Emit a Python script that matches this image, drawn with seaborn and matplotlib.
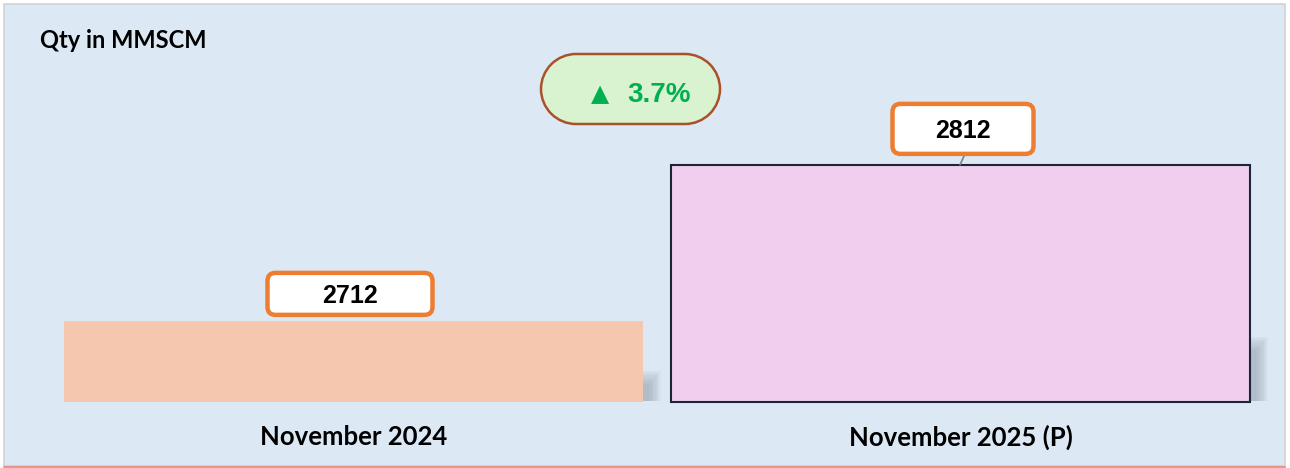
import matplotlib
matplotlib.use("Agg")
import matplotlib.pyplot as plt
from matplotlib.patches import Rectangle, FancyBboxPatch, PathPatch
from matplotlib.path import Path
from matplotlib.transforms import IdentityTransform, blended_transform_factory
from matplotlib.lines import Line2D
import seaborn as sns
import pandas as pd
import numpy as np

# ---- data ----
categories = ["November 2024", "November 2025 (P)"]
values = [2712, 2812]
change_label = "3.7%"
unit_label = "Qty in MMSCM"
bar_colors = ["#f5c7ae", "#f1cdee"]

W, H = 1290, 468
sns.set_theme(style="white")
plt.rcParams['font.family'] = ['Liberation Sans', 'DejaVu Sans']

fig = plt.figure(figsize=(W / 100, H / 100), dpi=100)
fig.patch.set_facecolor("white")
ID = IdentityTransform()

def P(x, y):
    return (x, H - y)

def stadium(x0, y0, w, h):
    r = h / 2.0
    a1 = Path.arc(90, 270)
    a2 = Path.arc(-90, 90)
    v1 = a1.vertices * r + np.array([x0 + r, y0 + r])
    v2 = a2.vertices * r + np.array([x0 + w - r, y0 + r])
    verts = np.vstack([v1, v2, v1[:1]])
    codes = np.concatenate([a1.codes, [Path.LINETO], a2.codes[1:], [Path.LINETO]])
    codes[0] = Path.MOVETO
    return Path(verts, codes)

# background panel
fig.add_artist(Rectangle(P(4, 466), 1281, 462, transform=ID, facecolor="#dce9f5",
                         edgecolor="#d2d2d2", linewidth=1.2, zorder=0))
fig.add_artist(Line2D([4, 1285], [H - 466.5, H - 466.5], transform=ID, color="#e9958a",
                      linewidth=1.5, zorder=1))

ax = fig.add_axes([0, 0, 1, 1])
ax.set_facecolor("none")
ax.patch.set_alpha(0)

base = 2660
px_per_unit = 1.56
ylo = base - 66 / px_per_unit
ax.set_ylim(ylo, ylo + H / px_per_unit)

df = pd.DataFrame({"category": categories, "value": values})
sns.barplot(data=df, x="category", y="value", hue="category", palette=bar_colors,
            width=0.954, legend=False, ax=ax, zorder=3, saturation=1)
ax.set_xlim(-353.5 / 607, 1 + (W - 960.5) / 607)

for i, p in enumerate(ax.patches):
    h = p.get_height()
    p.set_y(base)
    p.set_height(h - base)
    if i == 1:
        p.set_edgecolor("#1b2536")
        p.set_linewidth(1.5)
    else:
        p.set_edgecolor("none")

# soft shadows to the right of bars
shadow_h = [30, 64]
for i, p in enumerate(list(ax.patches)):
    x1 = p.get_x() + p.get_width()
    dx, dbot = ax.transData.transform((x1, base))
    n = 10
    for k in range(n):
        ax.add_artist(Rectangle((dx - 2, dbot + 1), 8 + k * 1.3,
                                shadow_h[i] - 14 + k * 1.6,
                                transform=ID, facecolor="#8f9aa6", alpha=0.07,
                                edgecolor="none", zorder=2))

ax.set_xlabel("")
ax.set_ylabel("")
ax.set_xticks([])
ax.set_yticks([])
for s in ax.spines.values():
    s.set_visible(False)

# value label boxes
box_specs = [(-3.5, 27, 165, 42), (2.5, 36, 141, 50)]
for i, v in enumerate(values):
    bx, by = ax.transData.transform((i, v))
    ox, oy, bw, bh = box_specs[i]
    cx, cy = bx + ox, by + oy
    if i == 1:
        ax.add_artist(Line2D([cx + 2, bx - 0.5], [cy - bh / 2, by], transform=ID,
                             color="#7f7f7f", linewidth=1.2, zorder=4))
    ax.add_artist(FancyBboxPatch((cx - bw / 2, cy - bh / 2), bw, bh,
                                 boxstyle="round,pad=0,rounding_size=8",
                                 transform=ID, facecolor="white", edgecolor="#ed7d31",
                                 linewidth=3.2, zorder=5))
    ax.text(cx, cy, str(v), transform=ID, ha="center", va="center_baseline",
            fontsize=18, fontweight="bold", color="black", zorder=6)

# change pill
pill = stadium(541, H - 124, 179, 70)
ax.add_artist(PathPatch(pill, transform=ID, facecolor="#d9f2d0", edgecolor="#a9522a",
                        linewidth=1.8, zorder=5))
ax.text(*P(600, 92), "\u25B2", transform=ID, ha="center", va="center_baseline",
        fontsize=17, color="#00b050", family=['DejaVu Sans'], zorder=6)
ax.text(*P(659, 92), change_label, transform=ID, ha="center", va="center_baseline",
        fontsize=20, fontweight="bold", color="#00b050", zorder=6)

# category labels
tr = blended_transform_factory(ax.transData, ID)
for i, c in enumerate(categories):
    ax.text(i, H - 435, c, transform=tr, ha="center", va="center_baseline",
            fontsize=18.5, fontweight="bold", color="black", family=['Lato', 'DejaVu Sans'])

# unit label
ax.text(*P(40, 38), unit_label, transform=ID, ha="left", va="center_baseline",
        fontsize=17, fontweight="bold", color="black", family=['Lato', 'DejaVu Sans'])

fig.savefig("out.png", dpi=100)
